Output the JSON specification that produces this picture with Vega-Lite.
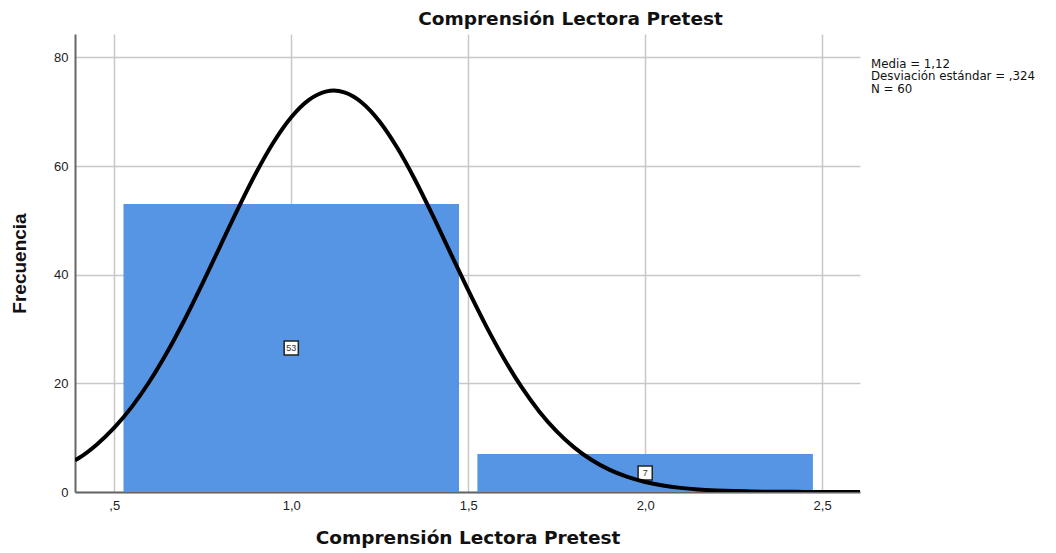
{
  "$schema": "https://vega.github.io/schema/vega-lite/v6.json",
  "width": 785,
  "height": 458,
  "autosize": {"type": "none"},
  "padding": {"left": 75, "top": 34, "right": 196, "bottom": 61},
  "background": "white",
  "config": {
    "view": {"stroke": null},
    "font": "Liberation Sans",
    "axis": {
      "gridColor": "#c8c8c8",
      "gridWidth": 1.5,
      "domainColor": "#666666",
      "domainWidth": 2,
      "ticks": false,
      "labelFont": "Liberation Sans",
      "labelFontSize": 13,
      "labelColor": "#222222",
      "titleFont": "DejaVu Sans",
      "titleFontSize": 18.5,
      "titleFontWeight": "bold",
      "titleColor": "#111111"
    }
  },
  "title": {
    "text": "Comprensión Lectora Pretest",
    "font": "DejaVu Sans",
    "fontSize": 18.5,
    "fontWeight": "bold",
    "color": "#111111",
    "anchor": "middle",
    "dx": 103,
    "offset": 6
  },
  "datasets": {
    "bars": [
      {"lo": 0.526, "hi": 1.474, "mid": 1.0, "count": 53, "label": "53"},
      {"lo": 1.526, "hi": 2.474, "mid": 2.0, "count": 7, "label": "7"}
    ],
    "curve": [
      {"x": 0.389, "y": 5.84},
      {"x": 0.40, "y": 6.26},
      {"x": 0.45, "y": 8.71},
      {"x": 0.50, "y": 11.84},
      {"x": 0.55, "y": 15.72},
      {"x": 0.60, "y": 20.38},
      {"x": 0.65, "y": 25.80},
      {"x": 0.70, "y": 31.89},
      {"x": 0.75, "y": 38.49},
      {"x": 0.80, "y": 45.36},
      {"x": 0.85, "y": 52.21},
      {"x": 0.90, "y": 58.67},
      {"x": 0.95, "y": 64.38},
      {"x": 1.00, "y": 68.98},
      {"x": 1.05, "y": 72.17},
      {"x": 1.10, "y": 73.74},
      {"x": 1.12, "y": 73.88},
      {"x": 1.15, "y": 73.56},
      {"x": 1.20, "y": 71.66},
      {"x": 1.25, "y": 68.16},
      {"x": 1.30, "y": 63.31},
      {"x": 1.35, "y": 57.43},
      {"x": 1.40, "y": 50.86},
      {"x": 1.45, "y": 43.98},
      {"x": 1.50, "y": 37.14},
      {"x": 1.55, "y": 30.62},
      {"x": 1.60, "y": 24.66},
      {"x": 1.65, "y": 19.38},
      {"x": 1.70, "y": 14.88},
      {"x": 1.75, "y": 11.16},
      {"x": 1.80, "y": 8.17},
      {"x": 1.85, "y": 5.84},
      {"x": 1.90, "y": 4.07},
      {"x": 1.95, "y": 2.78},
      {"x": 2.00, "y": 1.85},
      {"x": 2.05, "y": 1.20},
      {"x": 2.10, "y": 0.76},
      {"x": 2.15, "y": 0.47},
      {"x": 2.20, "y": 0.29},
      {"x": 2.25, "y": 0.17},
      {"x": 2.30, "y": 0.10},
      {"x": 2.35, "y": 0.05},
      {"x": 2.40, "y": 0.03},
      {"x": 2.45, "y": 0.02},
      {"x": 2.50, "y": 0.01},
      {"x": 2.55, "y": 0.0},
      {"x": 2.607, "y": 0.0}
    ],
    "notes": [
      {"x": 2.638, "y": 78.76, "text": "Media = 1,12"},
      {"x": 2.638, "y": 76.5, "text": "Desviación estándar = ,324"},
      {"x": 2.638, "y": 74.24, "text": "N = 60"}
    ]
  },
  "layer": [
    {
      "data": {"name": "bars"},
      "mark": {"type": "rect", "color": "#5595e4"},
      "encoding": {
        "x": {
          "field": "lo", "type": "quantitative",
          "scale": {"domain": [0.389, 2.607], "nice": false, "zero": false},
          "axis": {
            "values": [0.5, 1.0, 1.5, 2.0, 2.5],
            "labelExpr": "replace(replace(format(datum.value,'.1f'),'.',','),'0,',',')",
            "labelPadding": 7,
            "title": "Comprensión Lectora Pretest",
            "titlePadding": 16
          }
        },
        "x2": {"field": "hi"},
        "y": {
          "field": "count", "type": "quantitative",
          "scale": {"domain": [0, 84.3], "nice": false},
          "axis": {
            "values": [0, 20, 40, 60, 80],
            "labelPadding": 7,
            "title": "Frecuencia",
            "titleFont": "Liberation Sans",
            "titleFontSize": 19,
            "titlePadding": 24
          }
        },
        "y2": {"datum": 0}
      }
    },
    {
      "data": {"name": "bars"},
      "transform": [{"calculate": "datum.count / 2", "as": "half"}],
      "mark": {"type": "point", "shape": "square", "filled": true, "fill": "white", "stroke": "#222222", "strokeWidth": 1.5, "size": 200, "opacity": 1},
      "encoding": {
        "x": {"field": "mid", "type": "quantitative"},
        "y": {"field": "half", "type": "quantitative"}
      }
    },
    {
      "data": {"name": "bars"},
      "transform": [{"calculate": "datum.count / 2", "as": "half"}],
      "mark": {"type": "text", "fontSize": 9, "font": "Liberation Sans", "color": "#333333", "baseline": "middle", "align": "center"},
      "encoding": {
        "x": {"field": "mid", "type": "quantitative"},
        "y": {"field": "half", "type": "quantitative"},
        "text": {"field": "label"}
      }
    },
    {
      "data": {"name": "curve"},
      "mark": {"type": "line", "color": "black", "strokeWidth": 4, "interpolate": "monotone", "clip": true},
      "encoding": {
        "x": {"field": "x", "type": "quantitative"},
        "y": {"field": "y", "type": "quantitative"}
      }
    },
    {
      "data": {"name": "notes"},
      "mark": {"type": "text", "align": "left", "baseline": "middle", "fontSize": 11.8, "font": "DejaVu Sans", "color": "#111111", "clip": false},
      "encoding": {
        "x": {"field": "x", "type": "quantitative"},
        "y": {"field": "y", "type": "quantitative"},
        "text": {"field": "text"}
      }
    }
  ]
}
